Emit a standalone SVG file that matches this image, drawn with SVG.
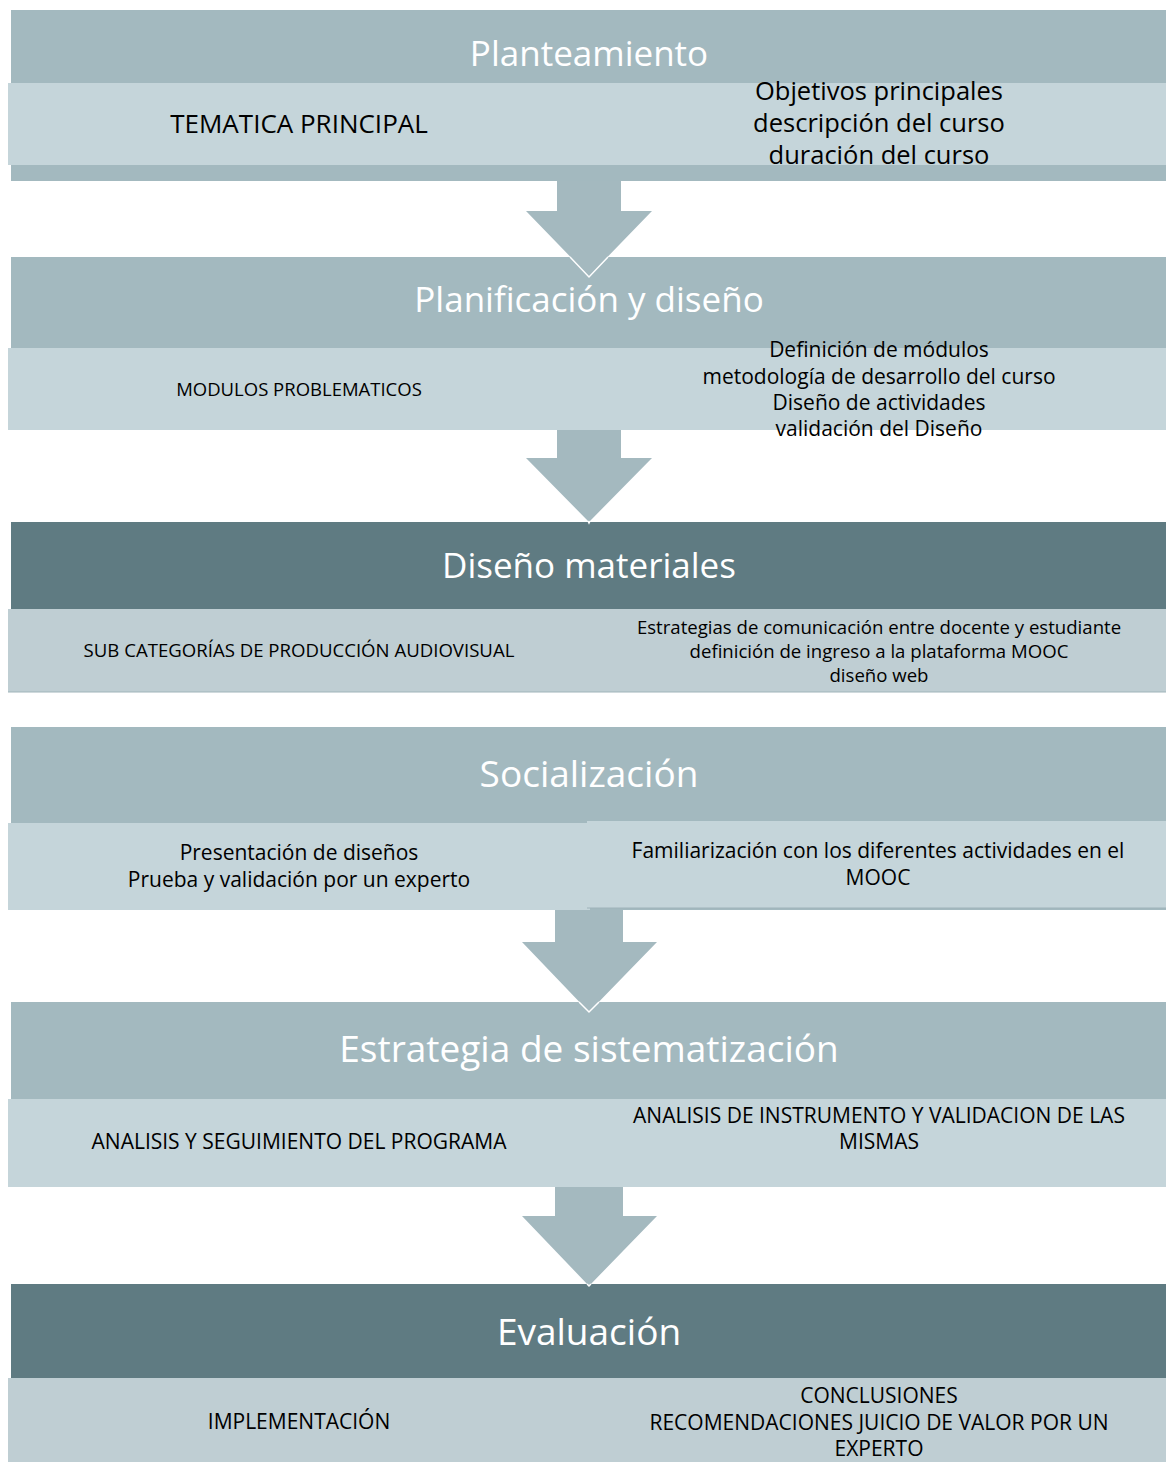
<svg xmlns="http://www.w3.org/2000/svg" width="1166" height="1462" viewBox="0 0 1166 1462">
<style>
.band{fill:#a3b9bf}
.dark{fill:#5f7b82}
.cell{fill:#c5d5da}
.cell2{fill:#bfced3}
.arrow{fill:#a4b9bf}
.tip{fill:none;stroke:#ffffff;stroke-width:1.5}
.title{font-family:"Open Sans",Lato,sans-serif;fill:#ffffff;text-anchor:middle}
.t{font-family:"Open Sans",Lato,sans-serif;fill:#000000;text-anchor:middle}
.seam{stroke:#9fb4ba;stroke-width:1.2}
</style>
<rect width="1166" height="1462" fill="#ffffff"/>

<g id="planteamiento">
<rect class="band" x="11" y="10" width="1155" height="171"/>
<rect class="cell" x="8" y="83" width="582" height="82"/>
<rect class="cell" x="590" y="83" width="576" height="82" fill="#c6d6db"/>
<text class="title" x="589" y="66" font-size="35">Planteamiento</text>
<text class="t" x="299" y="133" font-size="26">TEMATICA PRINCIPAL</text>
<text class="t" x="879" y="100" font-size="25.5">Objetivos principales</text>
<text class="t" x="879" y="132" font-size="25.5">descripción del curso</text>
<text class="t" x="879" y="164" font-size="25.5">duración del curso</text>
</g>

<g id="planificacion">
<rect class="band" x="11" y="257" width="1155" height="173"/>
<rect class="cell" x="8" y="348" width="582" height="82"/>
<rect class="cell" x="590" y="348" width="576" height="82"/>
<text class="title" x="589" y="312" font-size="35">Planificación y diseño</text>
<text class="t" x="299" y="396" font-size="18.5">MODULOS PROBLEMATICOS</text>
<text class="t" x="879" y="357" font-size="21">Definición de módulos</text>
<text class="t" x="879" y="384" font-size="21">metodología de desarrollo del curso</text>
<text class="t" x="879" y="410" font-size="21">Diseño de actividades</text>
<text class="t" x="879" y="436" font-size="21">validación del Diseño</text>
</g>

<g id="diseno-materiales">
<rect class="dark" x="11" y="522" width="1155" height="170"/>
<rect class="cell2" x="8" y="609" width="582" height="83"/>
<rect class="cell2" x="590" y="609" width="576" height="83"/>
<line class="seam" x1="8" y1="692" x2="1166" y2="692"/>
<text class="title" x="589" y="578" font-size="35">Diseño materiales</text>
<text class="t" x="299" y="657" font-size="18.6">SUB CATEGORÍAS DE PRODUCCIÓN AUDIOVISUAL</text>
<text class="t" x="879" y="634" font-size="18.6">Estrategias de comunicación entre docente y estudiante</text>
<text class="t" x="879" y="658" font-size="18.6">definición de ingreso a la plataforma MOOC</text>
<text class="t" x="879" y="682" font-size="18.6">diseño web</text>
</g>

<g id="socializacion">
<rect class="band" x="11" y="727" width="1155" height="183"/>
<rect class="cell" x="8" y="823" width="582" height="87"/>
<rect class="cell" x="587" y="821" width="579" height="87"/>
<line class="seam" x1="587" y1="908" x2="1166" y2="908"/>
<text class="title" x="589" y="787" font-size="37">Socialización</text>
<text class="t" x="299" y="860" font-size="21">Presentación de diseños</text>
<text class="t" x="299" y="887" font-size="21">Prueba y validación por un experto</text>
<text class="t" x="878" y="858" font-size="21">Familiarización con los diferentes actividades en el</text>
<text class="t" x="878" y="885" font-size="21">MOOC</text>
</g>

<g id="estrategia">
<rect class="band" x="11" y="1002" width="1155" height="185"/>
<rect class="cell" x="8" y="1099" width="582" height="88"/>
<rect class="cell" x="590" y="1099" width="576" height="88"/>
<text class="title" x="589" y="1062" font-size="37">Estrategia de sistematización</text>
<text class="t" x="299" y="1149" font-size="21">ANALISIS Y SEGUIMIENTO DEL PROGRAMA</text>
<text class="t" x="879" y="1123" font-size="21">ANALISIS DE INSTRUMENTO Y VALIDACION DE LAS</text>
<text class="t" x="879" y="1149" font-size="21">MISMAS</text>
</g>

<g id="evaluacion">
<rect class="dark" x="11" y="1284" width="1155" height="178"/>
<rect class="cell2" x="8" y="1378" width="582" height="84"/>
<rect class="cell2" x="590" y="1378" width="576" height="84"/>
<text class="title" x="589" y="1345" font-size="37">Evaluación</text>
<text class="t" x="299" y="1429" font-size="21">IMPLEMENTACIÓN</text>
<text class="t" x="879" y="1403" font-size="21">CONCLUSIONES</text>
<text class="t" x="879" y="1430" font-size="21">RECOMENDACIONES JUICIO DE VALOR POR UN</text>
<text class="t" x="879" y="1456" font-size="21">EXPERTO</text>
</g>

<g id="connectors">
<polygon class="arrow" points="557,181 621,181 621,211 652,211 589,276 526,211 557,211"/>
<polyline class="tip" points="570,257 589,277 608,257"/>
<polygon class="arrow" points="557,430 621,430 621,458 652,458 589,522 526,458 557,458"/>
<polyline class="tip" points="588,521 589,523 590,521"/>
<polygon class="arrow" points="555,910 623,910 623,942 657,942 589,1012 522,942 555,942"/>
<polyline class="tip" points="579,1002 589,1012 599,1002"/>
<polygon class="arrow" points="555,1187 623,1187 623,1216 657,1216 589,1286 522,1216 555,1216"/>
<polyline class="tip" points="587,1284 589,1286 591,1284"/>
</g>
</svg>
